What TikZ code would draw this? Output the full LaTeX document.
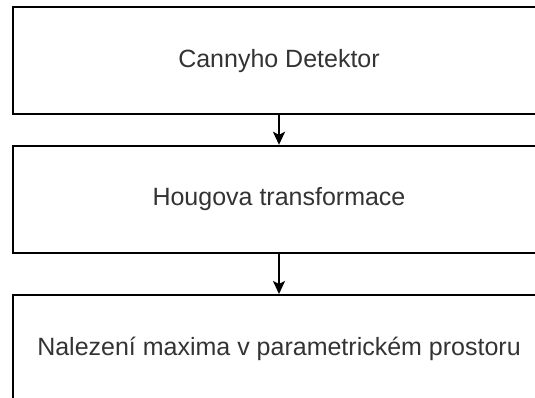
\documentclass[tikz,border=0pt]{standalone}
\usepackage{fontspec}
\setmainfont{Liberation Sans}
\usetikzlibrary{arrows.meta}
\tikzset{
  stepbox/.style={draw=black, line width=2pt, rectangle, minimum width=533pt, minimum height=107pt, inner sep=0pt, font=\fontsize{25}{30}\selectfont, text=black!80},
  arr/.style={draw=black, line width=2pt, -{Stealth[length=13pt, width=12pt, inset=3pt]}}
}
\begin{document}
\begin{tikzpicture}[x=1pt,y=1pt]
\useasboundingbox (0,0) rectangle (535,-398);
\clip (0,0) rectangle (535,-398);
\node[stepbox] (b1) at (279,-61) {Cannyho Detektor};
\node[stepbox] (b2) at (279,-199.3) {Hougova transformace};
\node[stepbox] (b3) at (279,-348.5) {Nalezení maxima v parametrickém prostoru};
\draw[arr] (b1.south) -- (b2.north);
\draw[arr] (b2.south) -- (b3.north);
\end{tikzpicture}
\end{document}
